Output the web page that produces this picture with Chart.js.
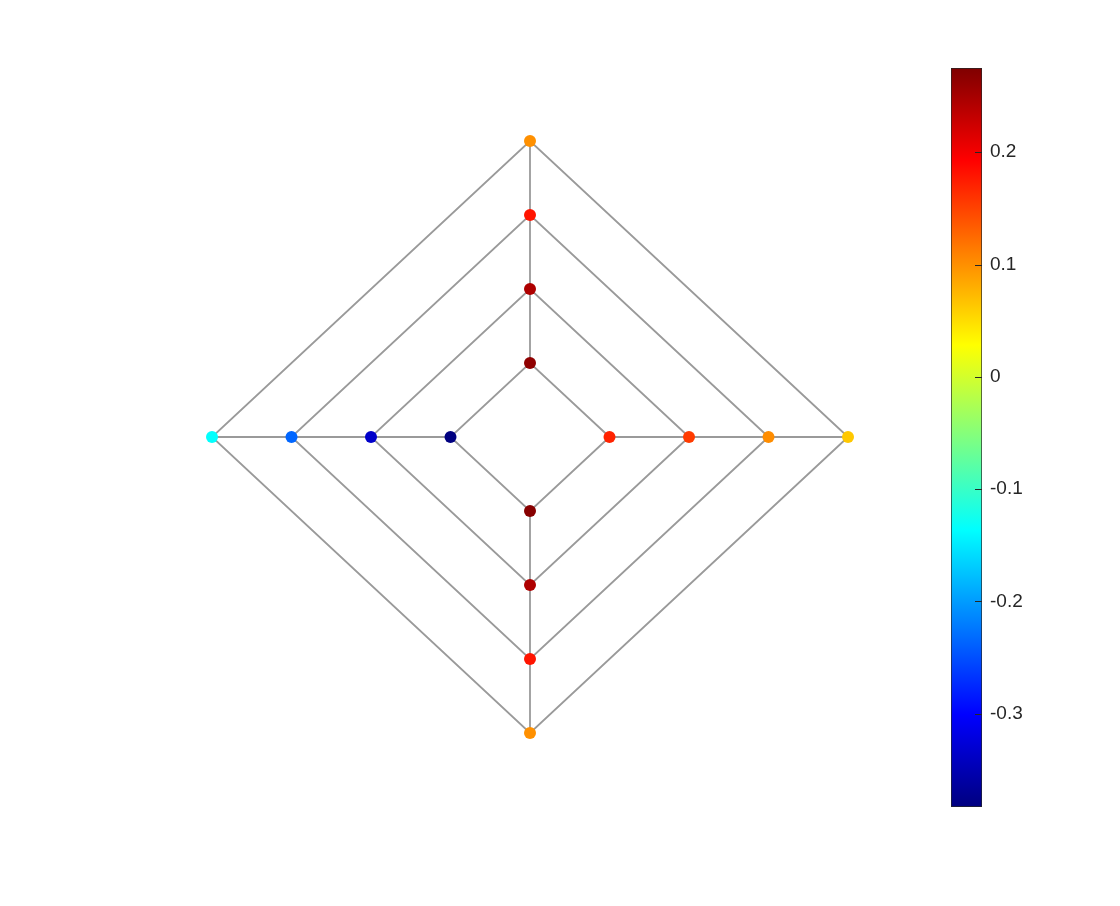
<!DOCTYPE html>
<html>
<head>
<meta charset="utf-8">
<script src="https://cdn.jsdelivr.net/npm/chart.js@4/dist/chart.umd.min.js"></script>
<style>
  html, body { margin: 0; padding: 0; background: #ffffff; }
  #wrap { position: relative; width: 1120px; height: 906px; }
  canvas { position: absolute; left: 0; top: 0; }
</style>
</head>
<body>
<div id="wrap">
  <canvas id="main" width="1120" height="906"></canvas>
  <canvas id="cbar" width="1120" height="906"></canvas>
</div>
<script>
// ---- data ----
const radii = [1, 2, 3, 4];
const angles = [0, 90, 180, 270];           // directions (degrees)
const valuesAt0   = [0.170, 0.155, 0.102, 0.064];
const valuesAt90  = [0.265, 0.245, 0.180, 0.100];
const valuesAt180 = [-0.383, -0.335, -0.235, -0.135];
const valuesAt270 = [0.270, 0.245, 0.180, 0.100];
const colorMin = -0.383;
const colorMax = 0.275;
const colorTicks = [-0.3, -0.2, -0.1, 0, 0.1, 0.2];

// ---- helpers ----
function clamp(v) { return Math.max(0, Math.min(1, v)); }
function jet(t) {
  const r = clamp(1.5 - Math.abs(4 * t - 3));
  const g = clamp(1.5 - Math.abs(4 * t - 2));
  const b = clamp(1.5 - Math.abs(4 * t - 1));
  return 'rgb(' + Math.round(r * 255) + ',' + Math.round(g * 255) + ',' + Math.round(b * 255) + ')';
}
function colorFor(v) { return jet((v - colorMin) / (colorMax - colorMin)); }
function polar(r, deg) {
  const a = deg * Math.PI / 180;
  const x = Math.round(r * Math.cos(a) * 1e9) / 1e9;
  const y = Math.round(r * Math.sin(a) * 1e9) / 1e9;
  return { x: x, y: y };
}

const valuesByAngle = [valuesAt0, valuesAt90, valuesAt180, valuesAt270];
const minR = radii[0];
const maxR = radii[radii.length - 1];
const gridColor = '#9a9a9a';
const gridWidth = 1.8;

// grid datasets: diamonds + spokes (from inner ring to outer ring)
const gridSets = [];
radii.forEach(function (r) {
  const pts = angles.map(function (a) { return polar(r, a); });
  pts.push(polar(r, angles[0]));
  gridSets.push({
    type: 'scatter', data: pts, showLine: true, borderColor: gridColor,
    borderWidth: gridWidth, pointRadius: 0, order: 2, fill: false
  });
});
angles.forEach(function (a) {
  gridSets.push({
    type: 'scatter', data: [polar(minR, a), polar(maxR, a)], showLine: true,
    borderColor: gridColor, borderWidth: gridWidth, pointRadius: 0, order: 2, fill: false
  });
});

// marker dataset
const pointData = [];
const pointColors = [];
angles.forEach(function (a, i) {
  radii.forEach(function (r, j) {
    pointData.push(polar(r, a));
    pointColors.push(colorFor(valuesByAngle[i][j]));
  });
});

new Chart(document.getElementById('main'), {
  type: 'scatter',
  data: {
    datasets: gridSets.concat([{
      type: 'scatter', data: pointData, pointRadius: 6, pointHoverRadius: 6,
      pointBackgroundColor: pointColors, pointBorderWidth: 0, borderWidth: 0, order: 0
    }])
  },
  options: {
    responsive: false, animation: false,
    layout: { padding: { left: 132.5, right: 192.5, top: 67, bottom: 99 } },
    plugins: { legend: { display: false }, tooltip: { enabled: false } },
    scales: {
      x: { type: 'linear', min: -5, max: 5, display: false },
      y: { type: 'linear', min: -5, max: 5, display: false }
    }
  }
});

// ---- colorbar ----
const cbTickMarks = {
  id: 'cbTickMarks',
  afterDatasetsDraw: function (chart) {
    const y = chart.scales.y;
    const a = chart.chartArea;
    const ctx = chart.ctx;
    ctx.save();
    ctx.strokeStyle = '#262626';
    ctx.lineWidth = 1;
    y.ticks.forEach(function (t) {
      const py = Math.round(y.getPixelForValue(t.value)) + 0.5;
      ctx.beginPath();
      ctx.moveTo(a.right - 7, py);
      ctx.lineTo(a.right, py);
      ctx.stroke();
    });
    ctx.restore();
  }
};

new Chart(document.getElementById('cbar'), {
  type: 'bar',
  data: {
    labels: [''],
    datasets: [{
      data: [[colorMin, colorMax]],
      barPercentage: 1, categoryPercentage: 1,
      borderWidth: 1, borderColor: '#262626', borderSkipped: false,
      backgroundColor: function (ctx) {
        const chart = ctx.chart;
        const ys = chart.scales.y;
        if (!ys || !chart.chartArea) return '#000';
        const y0 = ys.getPixelForValue(colorMin);
        const y1 = ys.getPixelForValue(colorMax);
        const g = chart.ctx.createLinearGradient(0, y0, 0, y1);
        for (let i = 0; i <= 64; i++) g.addColorStop(i / 64, jet(i / 64));
        return g;
      }
    }]
  },
  plugins: [cbTickMarks],
  options: {
    responsive: false, animation: false,
    layout: { padding: { left: 951, right: 78, top: 68, bottom: 99 } },
    plugins: { legend: { display: false }, tooltip: { enabled: false } },
    scales: {
      x: { display: false },
      y: {
        position: 'right', min: colorMin, max: colorMax,
        afterBuildTicks: function (scale) { scale.ticks = colorTicks.map(function (v) { return { value: v }; }); },
        afterFit: function (scale) { scale.width = 60; },
        grid: { display: false, drawTicks: false },
        border: { display: false },
        ticks: {
          padding: 8, color: '#262626',
          font: { family: 'Liberation Sans, Arial, sans-serif', size: 19 },
          callback: function (v) { return String(Math.round(v * 10) / 10); }
        }
      }
    }
  }
});
</script>
</body>
</html>
